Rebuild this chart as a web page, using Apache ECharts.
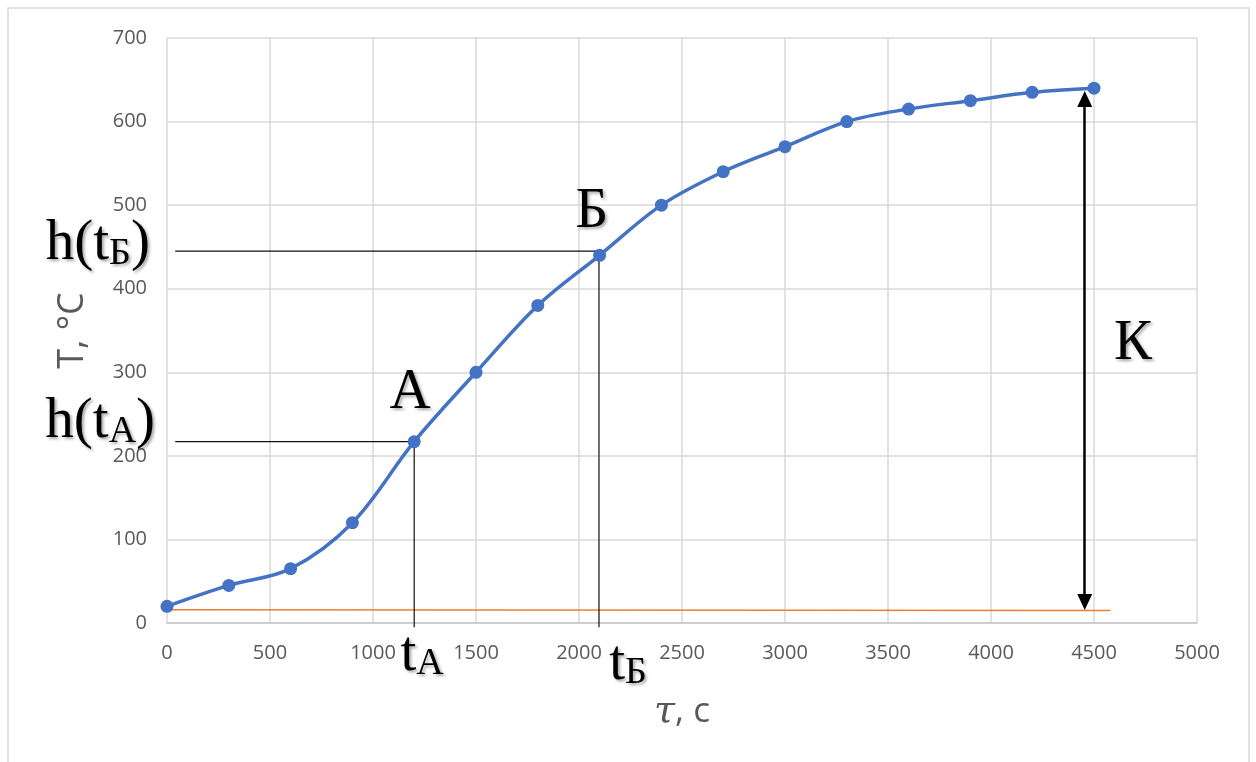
<!DOCTYPE html>
<html>
<head>
<meta charset="utf-8">
<script src="https://cdn.jsdelivr.net/npm/echarts@6/dist/echarts.min.js"></script>
<style>
html, body { margin: 0; padding: 0; background: #fff; }
#chart { width: 1256px; height: 762px; }
</style>
</head>
<body>
<div id="chart"></div>
<script>
// время, с  /  температура, °C
var timeSec = [0, 300, 600, 900, 1200, 1500, 1800, 2100, 2400, 2700, 3000, 3300, 3600, 3900, 4200, 4500];
var tempC = [20, 45, 65, 120, 217, 300, 380, 440, 500, 540, 570, 600, 615, 625, 635, 640];

// начальный уровень (оранжевая линия)
var baseX = [0, 4580];
var baseY = [16, 15];

// вспомогательные линии для точек А и Б
var guideA = [[40, 217], [1200, 217], [1200, -5]];
var guideB = [[40, 445], [2097, 445], [2097, -5]];

// стрелка К
var arrowK = [[4455, 25], [4455, 627]];

// подписи: текст, x, y (в координатах данных), выравнивание
var notes = [
    ['{m|h(t}{s|Б}{m|)}', -83, 453, 'right'],
    ['{m|h(t}{s|A}{m|)}', -58, 240, 'right'],
    ['{m|A}', 1180, 275, 'center'],
    ['{m|Б}', 2063, 492, 'center'],
    ['{m|К}', 4689, 334, 'center'],
    ['{m|t}{s|A}', 1238, -38, 'center'],
    ['{m|t}{s|Б}', 2238, -49, 'center']
];

var chart = echarts.init(document.getElementById('chart'));

var gridColor = '#d9d9d9';
var labelColor = '#595959';

var option = {
    backgroundColor: '#fff',
    animation: false,
    grid: { left: 167, right: 59, top: 38, bottom: 139 },
    xAxis: {
        type: 'value',
        min: 0,
        max: 5000,
        interval: 500,
        name: '{i|τ}{n|, с}',
        nameLocation: 'middle',
        nameGap: 70,
        nameTextStyle: {
            rich: {
                i: { fontFamily: 'DejaVu Serif', fontStyle: 'italic', fontSize: 38, color: labelColor },
                n: { fontFamily: 'Open Sans', fontSize: 35, color: labelColor }
            }
        },
        axisLine: { show: true, lineStyle: { color: '#c8c8c8', width: 1.5 } },
        axisTick: { show: false },
        axisLabel: {
            color: labelColor, fontSize: 20, fontFamily: 'Open Sans', margin: 20,
            formatter: function (v) { return String(v); }
        },
        splitLine: { show: true, lineStyle: { color: gridColor, width: 1.5 } }
    },
    yAxis: {
        type: 'value',
        min: 0,
        max: 700,
        interval: 100,
        name: 'T, °C',
        nameLocation: 'middle',
        nameGap: 76,
        nameTextStyle: { fontFamily: 'Open Sans', fontSize: 36, color: labelColor },
        axisLine: { show: false },
        axisTick: { show: false },
        axisLabel: { color: labelColor, fontSize: 20, fontFamily: 'Open Sans', margin: 20 },
        splitLine: { show: true, lineStyle: { color: gridColor, width: 1.5 } }
    },
    series: [{
        name: 'base',
        type: 'line',
        data: baseX.map(function (x, i) { return [x, baseY[i]]; }),
        symbol: 'none',
        lineStyle: { color: '#ED7D31', width: 1.5 },
        z: 2
    }, {
        name: 'guideA',
        type: 'line',
        data: guideA,
        symbol: 'none',
        clip: false,
        lineStyle: { color: '#111', width: 1.2 },
        z: 3
    }, {
        name: 'guideB',
        type: 'line',
        data: guideB,
        symbol: 'none',
        clip: false,
        lineStyle: { color: '#111', width: 1.2 },
        z: 3
    }, {
        name: 'K',
        type: 'line',
        data: [],
        markLine: {
            silent: true,
            symbol: ['triangle', 'triangle'],
            symbolSize: [15, 16],
            label: { show: false },
            lineStyle: { color: '#000', width: 2.5, type: 'solid' },
            data: [[{ coord: arrowK[0] }, { coord: arrowK[1] }]]
        }
    }, {
        name: 'T',
        type: 'line',
        data: timeSec.map(function (x, i) { return [x, tempC[i]]; }),
        smooth: 0.35,
        symbol: 'circle',
        symbolSize: 13,
        itemStyle: { color: '#4472C4' },
        lineStyle: { color: '#4472C4', width: 3.5 },
        z: 5
    }]
};

chart.setOption(option);

// рамка и крупные подписи
var textShadow = { textShadowColor: 'rgba(0,0,0,0.35)', textShadowBlur: 3, textShadowOffsetX: 2, textShadowOffsetY: 2 };
var graphics = [{
    type: 'rect',
    shape: { x: 8, y: 8, width: 1241, height: 770 },
    style: { fill: 'none', stroke: '#d9d9d9', lineWidth: 1.5 },
    silent: true
}];
notes.forEach(function (n) {
    var p = chart.convertToPixel({ gridIndex: 0 }, [n[1], n[2]]);
    graphics.push({
        type: 'text',
        x: p[0],
        y: p[1],
        z: 10,
        style: {
            text: n[0],
            align: n[3],
            verticalAlign: 'middle',
            rich: {
                m: Object.assign({ fontFamily: 'Liberation Serif', fontSize: 57, fill: '#000', verticalAlign: 'bottom' }, textShadow),
                s: Object.assign({ fontFamily: 'Liberation Serif', fontSize: 38, fill: '#000', verticalAlign: 'bottom' }, textShadow)
            }
        }
    });
});
chart.setOption({ graphic: graphics });
</script>
</body>
</html>
